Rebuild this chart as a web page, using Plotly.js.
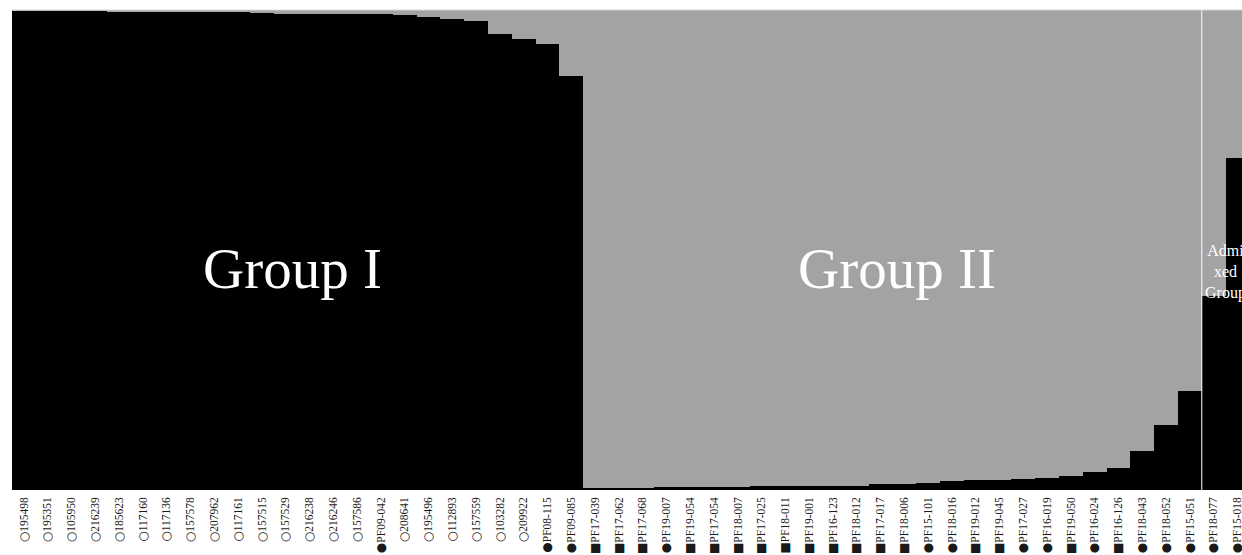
<!DOCTYPE html>
<html>
<head>
<meta charset="utf-8">
<script src="https://cdn.plot.ly/plotly-3.0.1.min.js"></script>
<style>html,body{margin:0;padding:0;background:#fff;}#chart{width:1242px;height:555px;}</style>
</head>
<body>
<div id="chart"></div>
<script>
// Sample marker glyphs and ids, in plotted order
const markers = [
  "○","○","○","○","○","○","○","○",
  "○","○","○","○","○","○","○","●",
  "○","○","○","○","○","○","●","●",
  "■","■","■","●","■","■","■","■",
  "■","■","■","■","■","■","●","●",
  "■","■","●","●","■","●","■","●",
  "●","●","●","●"
];
const samples = [
  "195498","195351","105950","216239","185623","117160","117136","157578",
  "207962","117161","157515","157529","216238","216246","157586","PF09-042",
  "208641","195496","112893","157559","103282","209922","PF08-115","PF09-085",
  "PF17-039","PF17-062","PF17-068","PF19-007","PF19-054","PF17-054","PF18-007","PF17-025",
  "PF18-011","PF19-001","PF16-123","PF18-012","PF17-017","PF18-006","PF15-101","PF18-016",
  "PF19-012","PF19-045","PF17-027","PF16-019","PF19-050","PF16-024","PF16-126","PF18-043",
  "PF18-052","PF15-051","PF18-077","PF15-018"
];
// Membership proportion in cluster 1 (black)
const groupI = [
  0.998,0.998,0.998,0.998,0.996,0.996,0.996,0.996,
  0.995,0.995,0.994,0.992,0.992,0.992,0.992,0.992,
  0.989,0.986,0.982,0.978,0.950,0.940,0.930,0.862,
  0.004,0.004,0.004,0.006,0.006,0.006,0.006,0.008,
  0.008,0.008,0.009,0.009,0.012,0.012,0.015,0.018,
  0.020,0.020,0.022,0.024,0.029,0.038,0.046,0.081,
  0.135,0.206,0.405,0.691
];
// Membership proportion in cluster 2 (grey)
const groupII = [
  0.002,0.002,0.002,0.002,0.004,0.004,0.004,0.004,
  0.005,0.005,0.006,0.008,0.008,0.008,0.008,0.008,
  0.011,0.014,0.018,0.022,0.050,0.060,0.070,0.138,
  0.996,0.996,0.996,0.994,0.994,0.994,0.994,0.992,
  0.992,0.992,0.991,0.991,0.988,0.988,0.985,0.982,
  0.980,0.980,0.978,0.976,0.971,0.962,0.954,0.919,
  0.865,0.794,0.595,0.309
];
const groupNames = ["Group I", "Group II", "Admi<br>xed<br>Group"];

const idx = samples.map((_, i) => i);
const serif = "Liberation Serif, Times New Roman, serif";
const tickText = samples.map((s, i) =>
  '<span style="font-family:DejaVu Sans;font-size:12px">' + markers[i] + '</span>' + s);

const traces = [
  {type: "bar", x: idx, y: groupI, marker: {color: "#000000", line: {width: 0}}, hoverinfo: "skip"},
  {type: "bar", x: idx, y: groupII, marker: {color: "#a3a3a3", line: {width: 0}}, hoverinfo: "skip"}
];

const layout = {
  width: 1242, height: 555,
  margin: {l: 12, r: 0, t: 10, b: 65, pad: 0},
  paper_bgcolor: "#ffffff", plot_bgcolor: "#ffffff",
  barmode: "stack", bargap: 0, showlegend: false,
  xaxis: {
    range: [-0.5, 51.19], tickmode: "array", tickvals: idx, ticktext: tickText,
    tickangle: -90, ticks: "", ticklabelstandoff: 4, ticklabeloverflow: "allow",
    showgrid: false, zeroline: false, showline: false,
    tickfont: {family: serif, size: 11.5, color: "#1a1a1a"}, fixedrange: true
  },
  yaxis: {range: [0, 1], visible: false, fixedrange: true},
  shapes: [
    {type: "line", xref: "x", yref: "paper", x0: 49.5, x1: 49.5, y0: 0, y1: 1,
     line: {color: "#ffffff", width: 1}},
    {type: "line", xref: "paper", yref: "paper", x0: 0, x1: 1, y0: 1, y1: 1,
     line: {color: "#d8d8d8", width: 1}}
  ],
  annotations: [
    {x: 11.3, y: 0.462, xref: "x", yref: "paper", text: groupNames[0], showarrow: false,
     font: {family: serif, size: 57, color: "#ffffff"}},
    {x: 36.69, y: 0.462, xref: "x", yref: "paper", text: groupNames[1], showarrow: false,
     font: {family: serif, size: 57, color: "#ffffff"}},
    {x: 50.5, y: 0.455, xref: "x", yref: "paper", text: groupNames[2], showarrow: false,
     font: {family: serif, size: 16, color: "#ffffff"}, align: "center"}
  ]
};

Plotly.newPlot("chart", traces, layout, {staticPlot: true, displayModeBar: false});
</script>
</body>
</html>
